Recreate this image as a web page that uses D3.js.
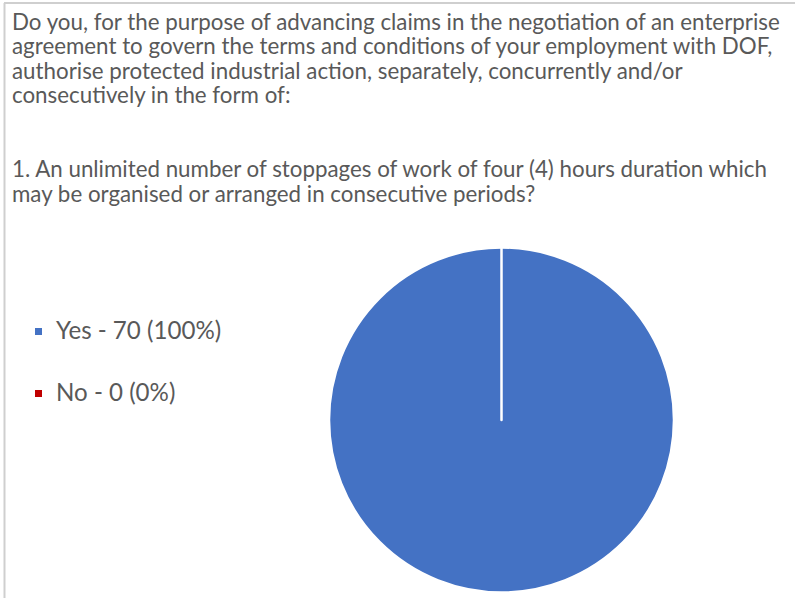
<!DOCTYPE html>
<html>
<head>
<meta charset="utf-8">
<script src="https://cdn.jsdelivr.net/npm/d3@7"></script>
<style>
  body { margin: 0; background: #fff; }
  svg { display: block; }
</style>
</head>
<body>
<div id="chart"></div>
<script>
// question text, already wrapped as it appears in the chart ("" = blank line)
const titleLines = [
  "Do you, for the purpose of advancing claims in the negotiation of an enterprise",
  "agreement to govern the terms and conditions of your employment with DOF,",
  "authorise protected industrial action, separately, concurrently and/or",
  "consecutively in the form of:",
  "",
  "",
  "1. An unlimited number of stoppages of work of four (4) hours duration which",
  "may be organised or arranged in consecutive periods?"
];

// answers and number of responses
const categories = ["Yes", "No"];
const counts = [70, 0];
const colors = ["#4472C4", "#C00000"];

const width = 795;
const height = 598;

const svg = d3.select("#chart")
  .append("svg")
  .attr("width", width)
  .attr("height", height);

// chart frame (only top and left edges are visible in the crop)
svg.append("line")
  .attr("x1", 4.5).attr("y1", 3)
  .attr("x2", 4.5).attr("y2", height)
  .attr("stroke", "#cfcfcf")
  .attr("stroke-width", 2);

svg.append("line")
  .attr("x1", 4).attr("y1", 3)
  .attr("x2", width).attr("y2", 3)
  .attr("stroke", "#cfcfcf")
  .attr("stroke-width", 2);

// title
const fontFamily = "Lato, 'Open Sans', sans-serif";
const title = svg.append("g").attr("class", "title");

title.selectAll("text")
  .data(titleLines)
  .enter()
  .append("text")
  .attr("x", 12)
  .attr("y", function(d, i) {
    return 29.5 + i * 24.6;
  })
  .attr("font-family", fontFamily)
  .attr("font-size", 20)
  .attr("fill", "#595959")
  .text(function(d) { return d; });

// fit the font so the first line spans the same width as in the original
const firstWidth = title.select("text").node().getComputedTextLength();
const fitSize = 20 * 768 / firstWidth;
title.selectAll("text").attr("font-size", fitSize);

// pie
const total = d3.sum(counts);
const data = categories.map(function(c, i) {
  return { name: c, value: counts[i], color: colors[i] };
});

const pie = d3.pie()
  .sort(null)
  .value(function(d) { return d.value; });

const radius = 172.5;
const arc = d3.arc()
  .innerRadius(0)
  .outerRadius(radius);

const pieG = svg.append("g")
  .attr("transform", "translate(501.5,420)");

pieG.selectAll("path")
  .data(pie(data))
  .enter()
  .append("path")
  .attr("d", arc)
  .attr("fill", function(d) { return d.data.color; })
  .attr("stroke", "#fff")
  .attr("stroke-width", 2.5)
  .attr("stroke-linejoin", "round");

// legend
const legend = svg.append("g")
  .attr("transform", "translate(35,0)");

const item = legend.selectAll("g")
  .data(data)
  .enter()
  .append("g")
  .attr("transform", function(d, i) {
    return `translate(0,${331.5 + i * 62})`;
  });

item.append("rect")
  .attr("x", 0)
  .attr("y", -3.5)
  .attr("width", 7)
  .attr("height", 7)
  .attr("fill", function(d) { return d.color; });

item.append("text")
  .attr("x", 21)
  .attr("y", 7)
  .attr("font-family", fontFamily)
  .attr("font-size", fitSize * 1.08)
  .attr("fill", "#595959")
  .text(function(d) {
    return `${d.name} - ${d.value} (${Math.round(d.value / total * 100)}%)`;
  });
</script>
</body>
</html>
